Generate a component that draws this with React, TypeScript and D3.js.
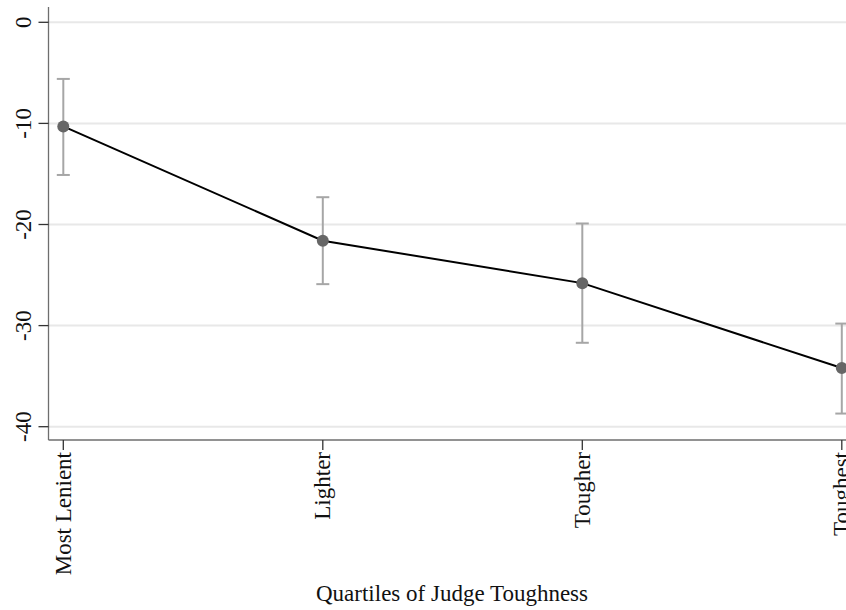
import React from "react";
import * as d3 from "d3";

const categories = ["Most Lenient", "Lighter", "Tougher", "Toughest"];
const estimates = [-10.3, -21.6, -25.8, -34.2];
const ciLower = [-15.1, -25.9, -31.7, -38.7];
const ciUpper = [-5.6, -17.3, -19.9, -29.8];
const yTicks = [0, -10, -20, -30, -40];
const xTitle = "Quartiles of Judge Toughness";

const W = 846;
const H = 610;
const FONT = "'Liberation Serif', 'Times New Roman', serif";

export default function App() {
  const x = d3.scalePoint<string>().domain(categories).range([63.3, 841.8]);
  const y = d3.scaleLinear().domain([0, -40]).range([22.3, 426.7]);
  const axisX = 48.5;
  const axisY = 440;
  const line = d3
    .line<number>()
    .x((_, i) => x(categories[i]) as number)
    .y((d) => y(d));

  return (
    <svg
      width={W}
      height={H}
      style={{ position: "absolute", left: 0, top: 0, background: "#fff" }}
      fontFamily={FONT}
    >
      {/* gridlines */}
      {yTicks.map((t) => (
        <line key={"g" + t} x1={axisX} x2={W} y1={y(t)} y2={y(t)} stroke="#e8e8e8" strokeWidth={2} />
      ))}
      {/* y axis */}
      <line x1={axisX} x2={axisX} y1={7} y2={axisY} stroke="#6e6e6e" strokeWidth={1.3} />
      {yTicks.map((t) => (
        <g key={"t" + t}>
          <line x1={axisX - 10} x2={axisX} y1={y(t)} y2={y(t)} stroke="#333" strokeWidth={1.3} />
          <text
            transform={`translate(23,${y(t)}) rotate(-90)`}
            textAnchor="middle"
            dominantBaseline="central"
            fontSize={23}
            fill="#111"
          >
            {t}
          </text>
        </g>
      ))}
      {/* x axis */}
      <line x1={axisX} x2={W} y1={axisY} y2={axisY} stroke="#6e6e6e" strokeWidth={1.3} />
      {categories.map((c) => (
        <g key={c}>
          <line x1={x(c)} x2={x(c)} y1={axisY} y2={axisY + 10} stroke="#333" strokeWidth={1.3} />
          <text
            transform={`translate(${x(c)},${axisY + 12}) rotate(-90)`}
            textAnchor="end"
            dominantBaseline="central"
            fontSize={23}
            fill="#111"
          >
            {c}
          </text>
        </g>
      ))}
      <text x={452} y={601} textAnchor="middle" fontSize={23} fill="#111">
        {xTitle}
      </text>
      {/* error bars */}
      {categories.map((c, i) => {
        const cx = x(c) as number;
        return (
          <g key={"e" + c} stroke="#a6a6a6" strokeWidth={2}>
            <line x1={cx} x2={cx} y1={y(ciLower[i])} y2={y(ciUpper[i])} />
            <line x1={cx - 6.5} x2={cx + 6.5} y1={y(ciLower[i])} y2={y(ciLower[i])} />
            <line x1={cx - 6.5} x2={cx + 6.5} y1={y(ciUpper[i])} y2={y(ciUpper[i])} />
          </g>
        );
      })}
      <path d={line(estimates) || ""} fill="none" stroke="#000" strokeWidth={2} />
      {categories.map((c, i) => (
        <circle key={"p" + c} cx={x(c)} cy={y(estimates[i])} r={6} fill="#666" />
      ))}
    </svg>
  );
}
